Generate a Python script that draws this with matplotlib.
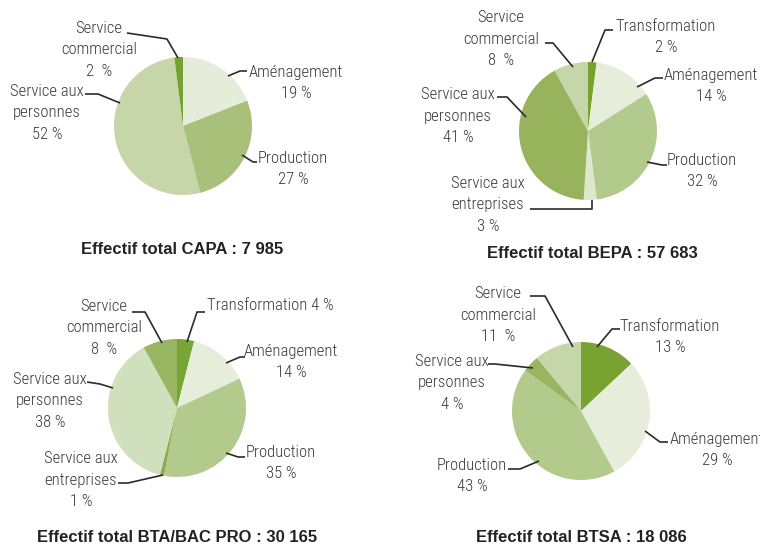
import matplotlib
matplotlib.use('Agg')
import matplotlib.pyplot as plt
from matplotlib import font_manager

# data (clockwise from 12 o'clock)
capa_names = ['Aménagement', 'Production', 'Service aux\npersonnes', 'Service\ncommercial']
capa_values = [19, 27, 52, 2]
bepa_names = ['Transformation', 'Aménagement', 'Production', 'Service aux\nentreprises',
              'Service aux\npersonnes', 'Service\ncommercial']
bepa_values = [2, 14, 32, 3, 41, 8]
bta_names = ['Transformation', 'Aménagement', 'Production', 'Service aux\nentreprises',
             'Service aux\npersonnes', 'Service\ncommercial']
bta_values = [4, 14, 35, 1, 38, 8]
btsa_names = ['Transformation', 'Aménagement', 'Production', 'Service aux\npersonnes',
              'Service\ncommercial']
btsa_values = [13, 29, 43, 4, 11]
titles = ['Effectif total CAPA : 7 985', 'Effectif total BEPA : 57 683',
          'Effectif total BTA/BAC PRO : 30 165', 'Effectif total BTSA : 18 086']

# colours
capa_colors = ['#e5edda', '#a8c07a', '#c6d6a9', '#74a232']
bepa_colors = ['#76a32f', '#e6eedb', '#b3ca8d', '#dde7ce', '#97b45d', '#c5d6a9']
bta_colors = ['#77a636', '#e6eedb', '#b3ca8d', '#8bad4c', '#d0dfbc', '#98b562']
btsa_colors = ['#78a232', '#e6eedb', '#b3ca8d', '#98b562', '#c5d6a9']

# layout in pixels: pie centre, label block centre, leader path (start, elbow, end)
R = 69
layout = [
    dict(center=(183, 126), title=(182, 250), labels=[
        ((296, 83), [(228, 76), (240, 71), (247, 71)]),
        ((293, 169), [(242, 155), (253, 162), (257, 162)]),
        ((47, 113), [(120, 103), (98, 94), (85, 94)]),
        ((99, 50), [(178, 58), (167, 39), (127, 33)]),
    ]),
    dict(center=(588, 131), title=(592, 253), labels=[
        ((666, 37), [(592, 62), (605, 30), (613, 30)]),
        ((711, 86), [(637, 87), (655, 78), (663, 78)]),
        ((702, 171), [(647, 162), (662, 165), (667, 165)]),
        ((488, 205), [(592, 200), (592, 209), (530, 209)]),
        ((458, 116), [(526, 117), (507, 97), (497, 97)]),
        ((501, 39), [(573, 67), (553, 43), (545, 43)]),
    ]),
    dict(center=(177, 408), title=(177, 538), labels=[
        ((207, 306), [(187, 342), (197, 312), (205, 312)]),
        ((291, 362), [(226, 363), (240, 357), (245, 357)]),
        ((281, 463), [(226, 453), (238, 457), (245, 457)]),
        ((81, 480), [(163, 475), (128, 483), (118, 483)]),
        ((50, 401), [(113, 388), (100, 384), (87, 382)]),
        ((104, 328), [(162, 343), (145, 312), (132, 312)]),
    ]),
    dict(center=(581, 411), title=(581, 538), labels=[
        ((670, 337), [(597, 347), (612, 329), (620, 329)]),
        ((717, 450), [(645, 431), (660, 442), (668, 442)]),
        ((472, 476), [(539, 461), (520, 469), (508, 469)]),
        ((452, 383), [(533, 368), (495, 364), (488, 364)]),
        ((498, 315), [(573, 347), (545, 296), (530, 296)]),
    ]),
]

pies = [(capa_names, capa_values, capa_colors),
        (bepa_names, bepa_values, bepa_colors),
        (bta_names, bta_values, bta_colors),
        (btsa_names, btsa_values, btsa_colors)]

# pick a narrow font for the labels if one is there
fonts = font_manager.fontManager.ttflist
names_avail = {f.name for f in fonts}
lab_kw = dict(family=['Liberation Sans', 'DejaVu Sans'], fontsize=10.5)
for cand in ['Liberation Sans Narrow', 'Roboto Condensed', 'Open Sans Condensed', 'Noto Sans Condensed']:
    if cand in names_avail:
        lab_kw = dict(family=[cand, 'DejaVu Sans'], fontsize=12, fontweight='light')
        break
else:
    if any(f.name == 'DejaVu Sans' and f.stretch == 'condensed' for f in fonts):
        lab_kw = dict(family=['DejaVu Sans'], stretch='condensed', fontsize=11)
txt_col = '#3a3a3a'

fig = plt.figure(figsize=(7.6, 5.44), dpi=100)
ax = fig.add_axes([0, 0, 1, 1])

for k, (names, values, colors) in enumerate(pies):
    lay = layout[k]
    # y axis is flipped below, so counterclock in data = clockwise on screen
    ax.pie(values, colors=colors, startangle=-90, counterclock=True,
           center=lay['center'], radius=R, frame=True,
           wedgeprops=dict(linewidth=0))
    for j, (name, v) in enumerate(zip(names, values)):
        (tx, ty), path = lay['labels'][j]
        if k == 2 and name == 'Transformation':
            txt, ha = '%s %d %%' % (name, v), 'left'
        else:
            gap = '  ' if 'commercial' in name else ' '
            txt, ha = '%s\n%d%s%%' % (name, v, gap), 'center'
        ax.text(tx, ty, txt, ha=ha, va='center', multialignment='center',
                color=txt_col, linespacing=1.55, **lab_kw)
        xs = [p[0] for p in path]
        ys = [p[1] for p in path]
        ax.plot(xs, ys, color='#2b2b2b', lw=1.2, solid_capstyle='butt')
    ax.text(lay['title'][0], lay['title'][1], titles[k], ha='center', va='center',
            fontsize=12, fontweight='bold', family=['Liberation Sans', 'DejaVu Sans'],
            color='#222222')

ax.set_xlim(0, 760)
ax.set_ylim(544, 0)
ax.set_aspect('equal')
ax.axis('off')

plt.savefig('out.png', dpi=100)
